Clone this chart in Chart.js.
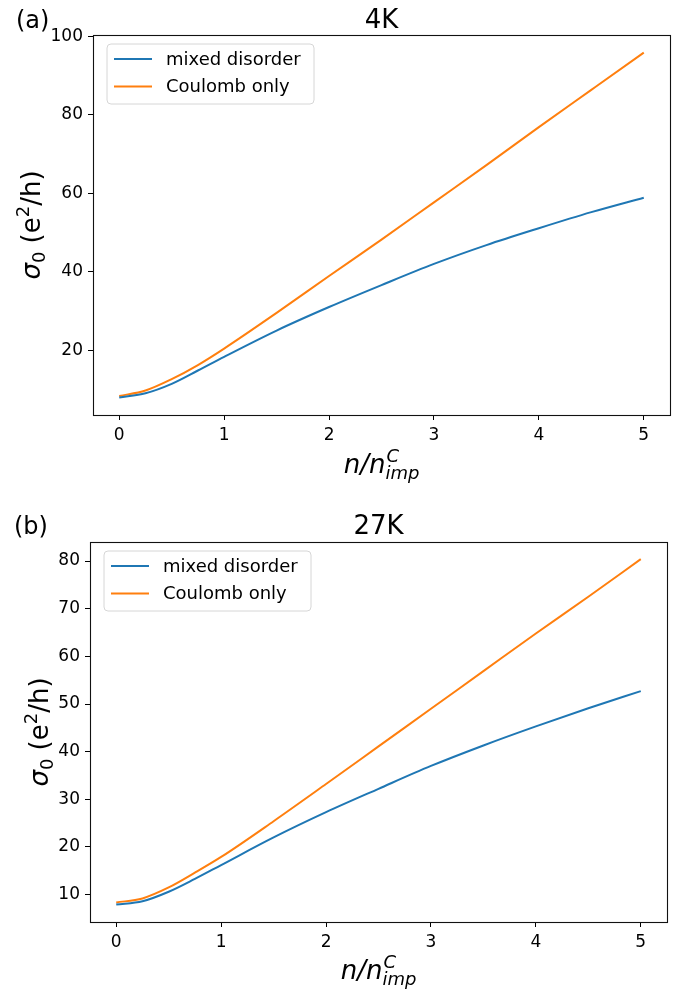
<!DOCTYPE html>
<html>
<head>
<meta charset="utf-8">
<script src="https://cdn.jsdelivr.net/npm/chart.js@4.4.1/dist/chart.umd.min.js"></script>
<style>
  body { margin: 0; background: #fff; }
  .panel { position: absolute; left: 0; }
</style>
</head>
<body>
<div class="panel" style="top:0px"><canvas id="chart4K" width="679" height="490"></canvas></div>
<div class="panel" style="top:496px"><canvas id="chart27K" width="679" height="496"></canvas></div>
<script>
// n / n_imp^C sample points
var nRatio = [0, 0.25, 0.5, 0.75, 1, 1.5, 2, 2.5, 3, 3.5, 4, 4.5, 5];

// sigma_0 at 4K
var mixed4K   = [7.9, 9.0, 11.4, 14.8, 18.3, 25.0, 31.0, 36.6, 42.0, 46.8, 51.1, 55.2, 58.9];
var coulomb4K = [8.3, 9.7, 12.6, 16.2, 20.4, 29.5, 38.9, 48.2, 57.7, 67.2, 76.9, 86.4, 95.9];

// sigma_0 at 27K
var mixed27K   = [7.9, 8.6, 10.6, 13.3, 16.2, 22.0, 27.3, 32.2, 37.0, 41.3, 45.3, 49.1, 52.7];
var coulomb27K = [8.35, 9.2, 11.5, 14.6, 17.9, 25.4, 33.2, 41.1, 49.0, 56.9, 64.8, 72.5, 80.4];

var xTicks = [0, 1, 2, 3, 4, 5];
var yTicks4K = [20, 40, 60, 80, 100];
var yTicks27K = [10, 20, 30, 40, 50, 60, 70, 80];

var seriesNames = ["mixed disorder", "Coulomb only"];
var BLUE = "#1f77b4";
var ORANGE = "#ff7f0e";
var FONT = "'DejaVu Sans', sans-serif";

function toPoints(ys) {
  return nRatio.map(function (x, i) { return { x: x, y: ys[i] }; });
}

// draw a list of text runs left to right, returns total width
function drawRuns(ctx, runs, x, y, measureOnly) {
  var w = 0;
  runs.forEach(function (r) {
    ctx.font = (r.italic ? "italic " : "") + r.size + "px " + FONT;
    if (!measureOnly) ctx.fillText(r.text, x + w, y + (r.dy || 0));
    w += ctx.measureText(r.text).width;
  });
  return w;
}

// title, panel letter, axis labels, frame and legend
var decorations = {
  id: "decorations",
  afterDraw: function (chart, args, opts) {
    var ctx = chart.ctx;
    var area = chart.chartArea;
    ctx.save();
    ctx.fillStyle = "#000";
    ctx.textAlign = "left";
    ctx.textBaseline = "alphabetic";

    // frame
    ctx.strokeStyle = "#111";
    ctx.lineWidth = 1.1;
    ctx.strokeRect(Math.round(area.left) + 0.5, Math.round(area.top) + 0.5,
      Math.round(area.right - area.left), Math.round(area.bottom - area.top));

    // panel letter and title
    ctx.font = "24px " + FONT;
    ctx.fillText(opts.letter, opts.letterX, opts.titleY);
    ctx.font = "26px " + FONT;
    ctx.textAlign = "center";
    ctx.fillText(opts.title, (area.left + area.right) / 2, opts.titleY);
    ctx.textAlign = "left";

    // x label: n/n^C_imp
    var cx = (area.left + area.right) / 2;
    var base = [{ text: "n/n", italic: true, size: 26 }];
    var bw = drawRuns(ctx, base, 0, 0, true);
    ctx.font = "italic 18px " + FONT;
    var subW = ctx.measureText("imp").width;
    var x0 = cx - (bw + subW) / 2;
    drawRuns(ctx, base, x0, opts.xLabelY);
    drawRuns(ctx, [{ text: "C", italic: true, size: 18, dy: -11 }], x0 + bw + 1, opts.xLabelY);
    drawRuns(ctx, [{ text: "imp", italic: true, size: 18, dy: 6 }], x0 + bw, opts.xLabelY);

    // y label: sigma_0 (e^2/h)
    var yRuns = [
      { text: "σ", italic: true, size: 26 },
      { text: "0", size: 18, dy: 5 },
      { text: " (e", size: 26 },
      { text: "2", size: 18, dy: -11 },
      { text: "/h)", size: 26 }
    ];
    var yw = drawRuns(ctx, yRuns, 0, 0, true);
    ctx.save();
    ctx.translate(opts.yLabelX, (area.top + area.bottom) / 2);
    ctx.rotate(-Math.PI / 2);
    drawRuns(ctx, yRuns, -yw / 2, 0);
    ctx.restore();

    // legend box
    var lx = area.left + 14, ly = area.top + 9, lw = 207, lh = 60, r = 4;
    ctx.beginPath();
    ctx.moveTo(lx + r, ly);
    ctx.arcTo(lx + lw, ly, lx + lw, ly + lh, r);
    ctx.arcTo(lx + lw, ly + lh, lx, ly + lh, r);
    ctx.arcTo(lx, ly + lh, lx, ly, r);
    ctx.arcTo(lx, ly, lx + lw, ly, r);
    ctx.closePath();
    ctx.fillStyle = "rgba(255,255,255,0.8)";
    ctx.fill();
    ctx.strokeStyle = "#d6d6d6";
    ctx.lineWidth = 1;
    ctx.stroke();

    var colors = [BLUE, ORANGE];
    ctx.font = "18px " + FONT;
    ctx.textBaseline = "middle";
    seriesNames.forEach(function (name, i) {
      var ry = area.top + 24 + i * 27.5;
      ctx.strokeStyle = colors[i];
      ctx.lineWidth = 2;
      ctx.beginPath();
      ctx.moveTo(area.left + 21, ry);
      ctx.lineTo(area.left + 59, ry);
      ctx.stroke();
      ctx.fillStyle = "#000";
      ctx.fillText(name, area.left + 73, ry + 1);
    });
    ctx.restore();
  }
};

function makeChart(id, mixed, coulomb, yMin, yMax, yTicks, geom) {
  var ctx = document.getElementById(id).getContext("2d");
  return new Chart(ctx, {
    type: "line",
    data: {
      datasets: [
        {
          label: seriesNames[0],
          data: toPoints(mixed),
          borderColor: BLUE,
          borderWidth: 2,
          pointRadius: 0,
          cubicInterpolationMode: "monotone",
          fill: false,
        },
        {
          label: seriesNames[1],
          data: toPoints(coulomb),
          borderColor: ORANGE,
          borderWidth: 2,
          pointRadius: 0,
          cubicInterpolationMode: "monotone",
          fill: false,
        },
      ],
    },
    options: {
      responsive: false,
      animation: false,
      devicePixelRatio: 1,
      layout: { padding: { top: geom.top, right: geom.right, left: 0, bottom: 0 } },
      plugins: {
        legend: { display: false },
        tooltip: { enabled: false },
        decorations: geom.deco,
      },
      scales: {
        x: {
          type: "linear",
          min: -0.25,
          max: 5.25,
          afterBuildTicks: function (scale) {
            scale.ticks = xTicks.map(function (v) { return { value: v }; });
          },
          afterFit: function (scale) { scale.height = geom.xHeight; },
          grid: { drawOnChartArea: false, drawTicks: true, tickLength: 5, color: "#000" },
          border: { display: false },
          ticks: { color: "#000", padding: 5, font: { family: FONT, size: 17 } },
        },
        y: {
          type: "linear",
          min: yMin,
          max: yMax,
          afterBuildTicks: function (scale) {
            scale.ticks = yTicks.map(function (v) { return { value: v }; });
          },
          afterFit: function (scale) { scale.width = geom.yWidth; },
          grid: { drawOnChartArea: false, drawTicks: true, tickLength: 5, color: "#000" },
          border: { display: false },
          ticks: { color: "#000", padding: 5, font: { family: FONT, size: 17 } },
        },
      },
    },
    plugins: [decorations],
  });
}

makeChart("chart4K", mixed4K, coulomb4K, 3.45, 100.4, yTicks4K, {
  top: 35, right: 9, xHeight: 75, yWidth: 93,
  deco: { letter: "(a)", title: "4K", letterX: 16, titleY: 28, xLabelY: 473, yLabelX: 40 },
});

makeChart("chart27K", mixed27K, coulomb27K, 4.25, 84.0, yTicks27K, {
  top: 46, right: 12, xHeight: 70, yWidth: 90,
  deco: { letter: "(b)", title: "27K", letterX: 14, titleY: 38, xLabelY: 483, yLabelX: 48 },
});
</script>
</body>
</html>
